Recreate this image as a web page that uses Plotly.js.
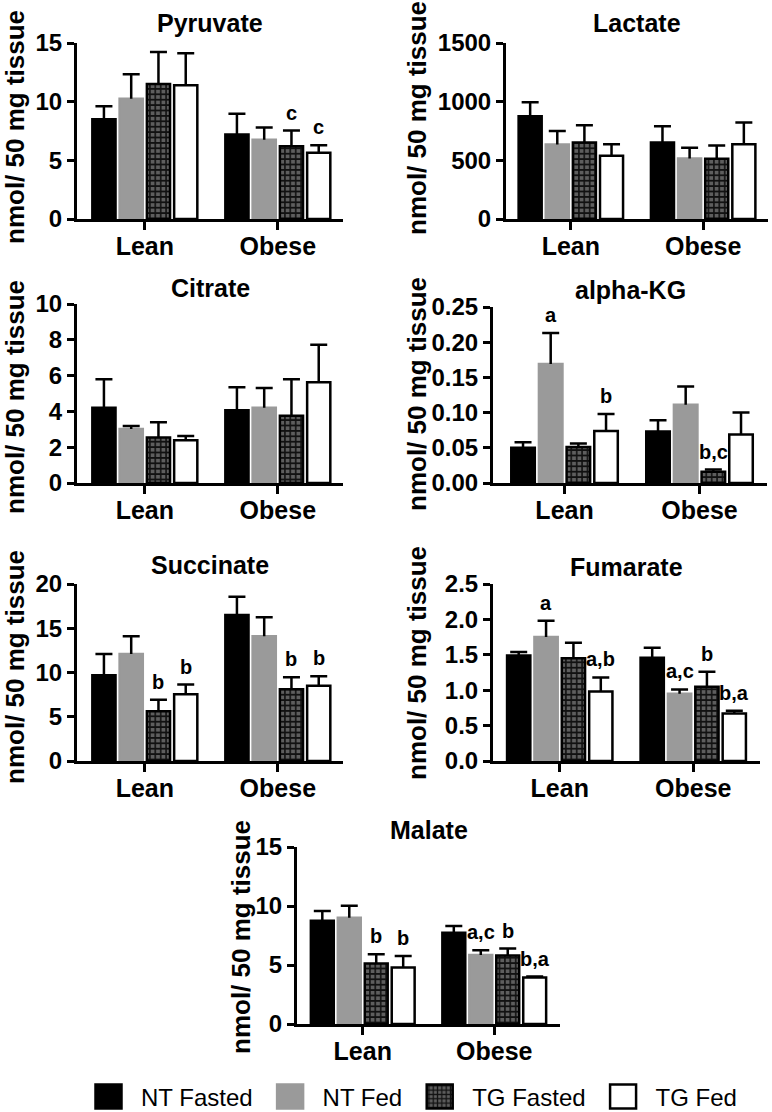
<!DOCTYPE html>
<html><head><meta charset="utf-8">
<script src="https://cdn.plot.ly/plotly-3.0.1.min.js"></script>
<style>html,body{margin:0;padding:0;background:#fff;}#chart{width:772px;height:1112px;}</style>
</head><body><div id="chart"></div>
<script>
// ---------- DATA (rows: NT Fasted, NT Fed, TG Fasted, TG Fed; cols: Lean, Obese) ----------
const groups = ['Lean', 'Obese'];
const seriesNames = ['NT Fasted', 'NT Fed', 'TG Fasted', 'TG Fed'];

const pyruvateMean = [[8.5, 7.2], [10.25, 6.75], [11.5, 6.2], [11.4, 5.65]];
const pyruvateSEM = [[1.1, 1.76], [2.08, 1.05], [2.73, 1.34], [2.72, 0.64]];
const pyruvateLetters = [['', ''], ['', ''], ['', 'c'], ['', 'c']];

const lactateMean = [[876, 652], [635, 516], [652, 513], [539, 638]];
const lactateSEM = [[119, 139], [114, 91], [148, 114], [99, 184]];
const lactateLetters = [['', ''], ['', ''], ['', ''], ['', '']];

const citrateMean = [[4.21, 4.07], [3.01, 4.21], [2.54, 3.76], [2.39, 5.63]];
const citrateSEM = [[1.58, 1.28], [0.17, 1.10], [0.86, 2.03], [0.23, 2.09]];
const citrateLetters = [['', ''], ['', ''], ['', ''], ['', '']];

const akgMean = [[0.050, 0.073], [0.169, 0.111], [0.051, 0.016], [0.074, 0.069]];
const akgSEM = [[0.008, 0.016], [0.044, 0.026], [0.005, 0.003], [0.024, 0.031]];
const akgLetters = [['', ''], ['a', ''], ['', 'b,c'], ['b', '']];

const succinateMean = [[9.70, 16.49], [12.08, 14.11], [5.62, 8.11], [7.55, 8.49]];
const succinateSEM = [[2.38, 2.08], [2.03, 2.12], [1.29, 1.36], [1.09, 1.09]];
const succinateLetters = [['', ''], ['', ''], ['b', 'b'], ['b', 'b']];

const fumarateMean = [[1.49, 1.46], [1.75, 0.95], [1.45, 1.05], [0.98, 0.67]];
const fumarateSEM = [[0.05, 0.14], [0.23, 0.06], [0.22, 0.21], [0.20, 0.04]];
const fumarateLetters = [['', ''], ['a', 'a,c'], ['', 'b'], ['a,b', 'b,a']];

const malateMean = [[8.75, 7.74], [9.01, 5.85], [5.12, 5.80], [4.78, 3.94]];
const malateSEM = [[0.82, 0.56], [1.01, 0.40], [0.79, 0.59], [0.99, 0.08]];
const malateLetters = [['', ''], ['', 'a,c'], ['b', 'b'], ['b', 'b,a']];

const yTitle = 'nmol/ 50 mg tissue';

// ---------- LAYOUT CONFIG ----------
const W = 772, H = 1112;
const panels = [
  {title: 'Pyruvate',  mean: pyruvateMean,  sem: pyruvateSEM,  letters: pyruvateLetters,  px: [77, 343],  py: [43, 219],  yr: [0, 15],   dt: 5,    fmt: '',    xr: [-0.51, 1.49], ty: 23,  yt: [15, 127]},
  {title: 'Lactate',   mean: lactateMean,   sem: lactateSEM,   letters: lactateLetters,   px: [506, 768], py: [43, 219],  yr: [0, 1500], dt: 500,  fmt: '',    xr: [-0.49, 1.49], ty: 23,  yt: [417, 118]},
  {title: 'Citrate',   mean: citrateMean,   sem: citrateSEM,   letters: citrateLetters,   px: [77, 343],  py: [304, 483], yr: [0, 10],   dt: 2,    fmt: '',    xr: [-0.51, 1.49], ty: 288, yt: [15, 397]},
  {title: 'alpha-KG',  mean: akgMean,       sem: akgSEM,       letters: akgLetters,       px: [493, 767], py: [307, 483], yr: [0, 0.25], dt: 0.05, fmt: '.2f', xr: [-0.53, 1.5],  ty: 290, yt: [417, 394]},
  {title: 'Succinate', mean: succinateMean, sem: succinateSEM, letters: succinateLetters, px: [77, 343],  py: [584, 761], yr: [0, 20],   dt: 5,    fmt: '',    xr: [-0.51, 1.49], ty: 565, yt: [15, 667]},
  {title: 'Fumarate',  mean: fumarateMean,  sem: fumarateSEM,  letters: fumarateLetters,  px: [493, 760], py: [584, 761], yr: [0, 2.5],  dt: 0.5,  fmt: '.1f', xr: [-0.5, 1.5],   ty: 567, yt: [417, 663]},
  {title: 'Malate',    mean: malateMean,    sem: malateSEM,    letters: malateLetters,    px: [297, 560], py: [847, 1024],yr: [0, 15],   dt: 5,    fmt: '',    xr: [-0.5, 1.5],   ty: 830, yt: [241, 937]}
];

const FONT = 'Liberation Sans, Arial, Helvetica, sans-serif';
const BARGAP = 0.18, BARGROUPGAP = 0.15;
const styles = [
  {color: '#000000', line: {color: '#000000', width: 2.5}},
  {color: '#9a9a9a', line: {color: '#9a9a9a', width: 2.5}},
  {color: '#5e5e5e', line: {color: '#000000', width: 2.5},
   pattern: {shape: '+', fgcolor: '#111111', bgcolor: '#5e5e5e', size: 5.4, solidity: 0.5}},
  {color: '#ffffff', line: {color: '#000000', width: 2.5}}
];

const traces = [];
const annotations = [];
const layout = {
  width: W, height: H,
  margin: {l: 0, r: 0, t: 0, b: 0, autoexpand: false},
  paper_bgcolor: '#fff', plot_bgcolor: 'rgba(0,0,0,0)',
  barmode: 'group', bargap: BARGAP, bargroupgap: BARGROUPGAP,
  font: {family: FONT, color: '#000'},
  showlegend: true,
  legend: {orientation: 'h', x: 76 / W, xanchor: 'left', y: 1 - 1097 / H, yanchor: 'middle',
           font: {family: FONT, size: 24, color: '#000'}, itemwidth: 55, bgcolor: 'rgba(0,0,0,0)'},
  annotations: annotations
};

const slot = (1 - BARGAP) / seriesNames.length;

panels.forEach((p, i) => {
  const n = i === 0 ? '' : String(i + 1);
  const xa = 'x' + n, ya = 'y' + n;
  layout['xaxis' + n] = {
    domain: [p.px[0] / W, p.px[1] / W], anchor: ya, type: 'category', range: p.xr,
    showline: true, linewidth: 3, linecolor: '#000', ticks: 'outside', ticklen: 8, tickwidth: 3, tickcolor: '#000',
    ticklabelstandoff: -5,
    showgrid: false, zeroline: false, tickfont: {family: FONT, size: 25, weight: 'bold', color: '#000'}, fixedrange: true
  };
  layout['yaxis' + n] = {
    domain: [1 - p.py[1] / H, 1 - p.py[0] / H], anchor: xa, range: p.yr, dtick: p.dt, tick0: 0, tickformat: p.fmt,
    showline: true, linewidth: 3, linecolor: '#000', ticks: 'outside', ticklen: 7, tickwidth: 3, tickcolor: '#000',
    showgrid: false, zeroline: false, tickfont: {family: FONT, size: 24, weight: 'bold', color: '#000'}, fixedrange: true
  };
  seriesNames.forEach((s, k) => {
    traces.push({
      type: 'bar', x: groups, y: p.mean[k], name: s, xaxis: xa, yaxis: ya,
      legendgroup: s, showlegend: i === 0, marker: styles[k], hoverinfo: 'skip',
      error_y: {type: 'data', symmetric: false, array: p.sem[k], arrayminus: p.sem[k].map(() => 0),
                color: '#000', thickness: 2.5, width: 8.5}
    });
    p.letters[k].forEach((lab, g) => {
      if (!lab) return;
      annotations.push({
        xref: xa, yref: ya, x: g + (k - (seriesNames.length - 1) / 2) * slot, y: p.mean[k][g] + p.sem[k][g],
        yshift: 18, text: lab, showarrow: false, xanchor: 'center', yanchor: 'middle',
        font: {family: FONT, size: 20, weight: 'bold', color: '#000'}
      });
    });
  });
  annotations.push({
    xref: 'paper', yref: 'paper', x: (p.px[0] + p.px[1]) / 2 / W, y: 1 - p.ty / H, text: p.title,
    showarrow: false, xanchor: 'center', yanchor: 'middle', font: {family: FONT, size: 25, weight: 'bold', color: '#000'}
  });
  annotations.push({
    xref: 'paper', yref: 'paper', x: p.yt[0] / W, y: 1 - p.yt[1] / H, text: yTitle, textangle: -90,
    showarrow: false, xanchor: 'center', yanchor: 'middle', font: {family: FONT, size: 26, weight: 'bold', color: '#000'}
  });
});

Plotly.newPlot('chart', traces, layout, {staticPlot: true, displayModeBar: false}).then(gd => {
  // one-sided error bars: drop the lower cross-bar
  gd.querySelectorAll('path.yerror').forEach(el => {
    const d = el.getAttribute('d');
    if (d) el.setAttribute('d', d.replace(/m-?[\d.]+,0h[\d.]+$/, ''));
  });
  // larger legend swatches like the original
  gd.querySelectorAll('.legend .legendpoints path').forEach(el => {
    el.setAttribute('d', 'M13,12H-13V-12H13Z');
  });
});
</script></body></html>
